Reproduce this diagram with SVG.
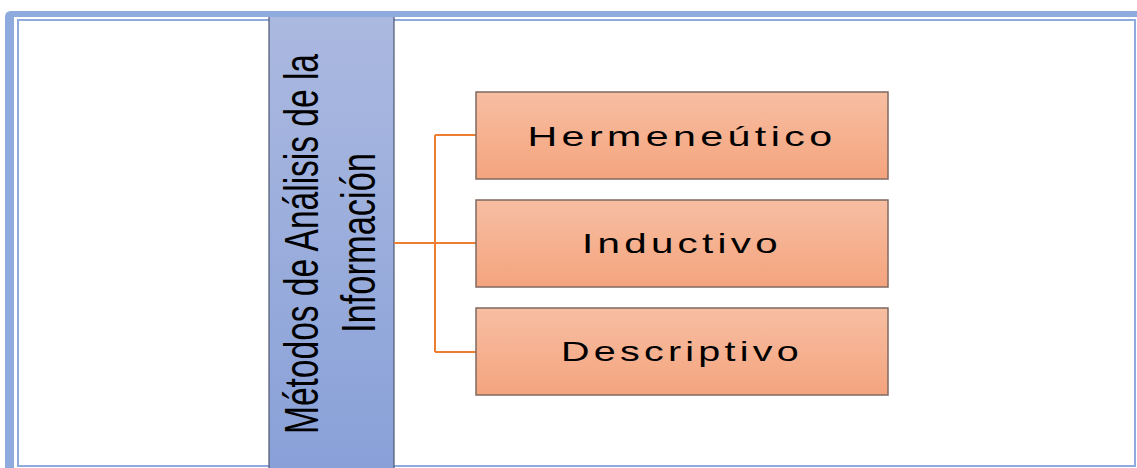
<svg xmlns="http://www.w3.org/2000/svg" width="1137" height="468" viewBox="0 0 1137 468">
<style>
.frame{fill:#8faadc}
.inner{fill:none;stroke:#8faadc;stroke-width:2}
.box{stroke:#7f6a60;stroke-width:1.5}
.lbl{font-family:"Liberation Sans",Arial,sans-serif;font-size:28px;fill:#000;text-anchor:middle;letter-spacing:3px}
.vt{font-family:"Liberation Sans",Arial,sans-serif;font-size:48px;fill:#000;text-anchor:middle}
.conn{fill:none;stroke:#ed7d31;stroke-width:2}
</style>
<defs>
<linearGradient id="gBlue" x1="0" y1="0" x2="0" y2="1">
<stop offset="0" stop-color="#abb9e0"/>
<stop offset="1" stop-color="#89a1d8"/>
</linearGradient>
<linearGradient id="gOr" x1="0" y1="0" x2="0" y2="1">
<stop offset="0" stop-color="#f7bea2"/>
<stop offset="1" stop-color="#f4a47e"/>
</linearGradient>
</defs>
<rect width="1137" height="468" fill="#fff"/>
<g id="frame">
<path class="frame" d="M5,468 V17 Q5,11 11,11 H1137 V17 H14 V468 Z"/>
<rect class="inner" x="18" y="20" width="1117" height="446"/>
</g>
<g id="main">
<rect x="269" y="17" width="125" height="451" fill="url(#gBlue)"/>
<line x1="269" y1="17" x2="269" y2="468" stroke="#4d5770" stroke-width="1.2"/>
<line x1="394" y1="17" x2="394" y2="468" stroke="#4d5770" stroke-width="1.2"/>
<text class="vt" transform="translate(318,244) rotate(-90)" textLength="380" lengthAdjust="spacingAndGlyphs">Métodos de Análisis de la</text>
<text class="vt" transform="translate(375,243) rotate(-90)" textLength="180" lengthAdjust="spacingAndGlyphs">Información</text>
</g>
<g id="connectors">
<path class="conn" d="M394,243 H435"/>
<path class="conn" d="M435,135 V352"/>
<path class="conn" d="M435,135 H476"/>
<path class="conn" d="M435,243 H476"/>
<path class="conn" d="M435,352 H476"/>
</g>
<g id="hermeneutico">
<rect class="box" x="476" y="92" width="412" height="87" fill="url(#gOr)"/>
<text class="lbl" x="682" y="146" textLength="309" lengthAdjust="spacingAndGlyphs">Hermeneútico</text>
</g>
<g id="inductivo">
<rect class="box" x="476" y="200" width="412" height="87" fill="url(#gOr)"/>
<text class="lbl" x="682" y="253" textLength="200" lengthAdjust="spacingAndGlyphs">Inductivo</text>
</g>
<g id="descriptivo">
<rect class="box" x="476" y="308" width="412" height="87" fill="url(#gOr)"/>
<text class="lbl" x="682" y="361" textLength="242" lengthAdjust="spacingAndGlyphs">Descriptivo</text>
</g>
</svg>
